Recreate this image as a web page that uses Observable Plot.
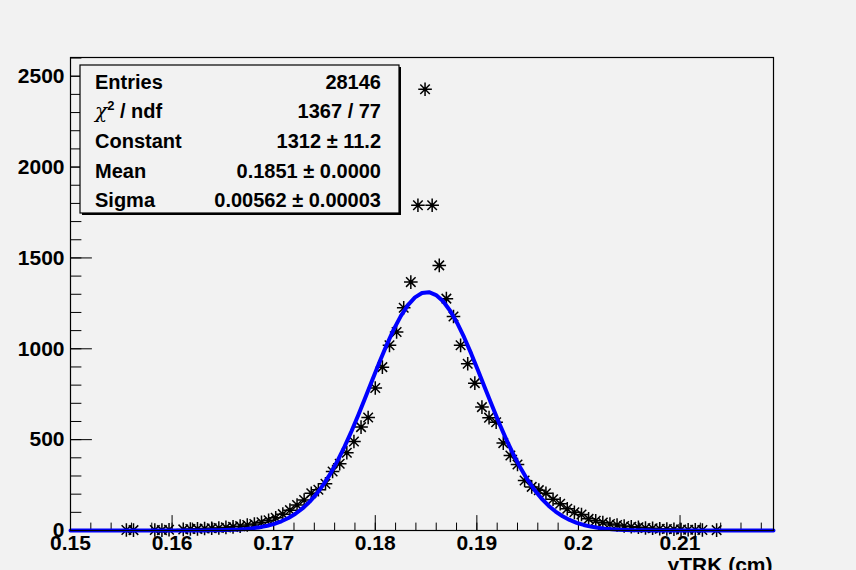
<!DOCTYPE html>
<html>
<head>
<meta charset="utf-8">
<script src="https://cdn.jsdelivr.net/npm/d3@7"></script>
<script src="https://cdn.jsdelivr.net/npm/@observablehq/plot@0.6"></script>
<style>
  html, body { margin: 0; padding: 0; background: #f2f2f2; }
  #chart { width: 856px; height: 570px; overflow: hidden; }
</style>
</head>
<body>
<div id="chart"></div>
<script>
// ---- data ----
const binCenters = [
  0.1555, 0.1562, 0.1583, 0.1590, 0.1597,
  0.1611, 0.1618, 0.1625, 0.1632, 0.1639, 0.1646, 0.1653, 0.1660, 0.1667, 0.1674,
  0.1681, 0.1688, 0.1695, 0.1702, 0.1709, 0.1716, 0.1723, 0.1730, 0.1737, 0.1744,
  0.1751, 0.1758, 0.1765, 0.1772, 0.1779, 0.1786, 0.1793, 0.1800, 0.1807, 0.1814,
  0.1821, 0.1828, 0.1835, 0.1842, 0.1849, 0.1856, 0.1863, 0.1870, 0.1877, 0.1884,
  0.1891, 0.1898, 0.1905, 0.1912, 0.1919, 0.1926, 0.1933, 0.1940, 0.1947, 0.1954,
  0.1961, 0.1968, 0.1975, 0.1982, 0.1989, 0.1996, 0.2003, 0.2010, 0.2017, 0.2024,
  0.2031, 0.2038, 0.2045, 0.2052, 0.2059, 0.2066, 0.2073, 0.2080, 0.2087, 0.2094,
  0.2101, 0.2108, 0.2115, 0.2122, 0.2136
];
const binCounts = [
  3, 2, 3, 2, 4,
  6, 8, 9, 11, 12, 14, 17, 20, 24, 30,
  36, 45, 56, 70, 90, 112, 140, 168, 205, 224,
  257, 325, 367, 428, 490, 569, 622, 784, 899, 1019,
  1092, 1226, 1367, 1790, 2428, 1790, 1459, 1276, 1178, 1019,
  918, 811, 679, 621, 596, 481, 413, 363, 275, 240,
  222, 205, 172, 147, 120, 100, 88, 64, 54, 44,
  36, 30, 25, 21, 18, 14, 12, 10, 8, 7,
  5, 4, 4, 3, 2
];

// fit parameters shown in the stats box
const fitConstant = 1312;
const fitMean = 0.1851;
const fitSigma = 0.00562;

const xDomain = [0.15, 0.2192];
const yDomain = [0, 2603];
const xMajorTicks = [0.15, 0.16, 0.17, 0.18, 0.19, 0.20, 0.21];
const xMinorTicks = d3.range(0.15, 0.2191, 0.002);
const yMajorTicks = [0, 500, 1000, 1500, 2000, 2500];
const yMinorTicks = d3.range(0, 2601, 100);

const xTitle = "yTRK (cm)";
const statsLabels = ["Entries", "chi2", "Constant", "Mean", "Sigma"];
const statsValues = ["28146", "1367 / 77", "1312 \u00b1 11.2", "0.1851 \u00b1 0.0000", "0.00562 \u00b1 0.00003"];

// ---- build tables ----
const points = binCenters.map((x, i) => ({x, y: binCounts[i]}));
const nFit = 100;
const fitX = d3.range(nFit + 1).map(i => xDomain[0] + (xDomain[1] - xDomain[0]) * i / nFit);
const fitCurve = fitX.map(x => ({x, y: fitConstant * Math.exp(-0.5 * ((x - fitMean) / fitSigma) ** 2)}));

// ROOT marker style 3 (asterisk with 8 arms)
const rootStar = {
  draw(context, size) {
    const r = Math.sqrt(size / Math.PI);
    const d = r * 0.7;
    context.moveTo(-r, 0); context.lineTo(r, 0);
    context.moveTo(0, -r); context.lineTo(0, r);
    context.moveTo(-d, -d); context.lineTo(d, d);
    context.moveTo(-d, d); context.lineTo(d, -d);
  }
};
// plain tick line for vector marks
const tickLine = {draw(context, l) { context.moveTo(0, 0); context.lineTo(0, -l); }};

const font = "'Liberation Sans', Arial, Helvetica, sans-serif";

const svg = Plot.plot({
  width: 856,
  height: 570,
  marginLeft: 70,
  marginRight: 83,
  marginTop: 57,
  marginBottom: 40,
  style: {background: "#f2f2f2", fontFamily: font, fontWeight: "bold", fontSize: "21px", color: "black", overflow: "hidden"},
  x: {domain: xDomain},
  y: {domain: yDomain},
  marks: [
    // ticks drawn inside the frame
    Plot.vector(xMinorTicks, {x: d => d, frameAnchor: "bottom", length: 7.5, rotate: 0, anchor: "start", shape: tickLine, stroke: "black", strokeWidth: 1}),
    Plot.vector(xMajorTicks, {x: d => d, frameAnchor: "bottom", length: 15, rotate: 0, anchor: "start", shape: tickLine, stroke: "black", strokeWidth: 1}),
    Plot.vector(yMinorTicks, {y: d => d, frameAnchor: "left", length: 10.5, rotate: 90, anchor: "start", shape: tickLine, stroke: "black", strokeWidth: 1}),
    Plot.vector(yMajorTicks, {y: d => d, frameAnchor: "left", length: 21, rotate: 90, anchor: "start", shape: tickLine, stroke: "black", strokeWidth: 1}),
    // tick labels
    Plot.axisX({ticks: xMajorTicks, tickSize: 0, tickPadding: 5, label: null, fontSize: 21, fill: "black",
      tickFormat: d => String(+d.toFixed(2))}),
    Plot.axisY({ticks: yMajorTicks, tickSize: 0, tickPadding: 6, label: null, fontSize: 21, fill: "black",
      tickFormat: d => String(d)}),
    // data markers
    Plot.dot(points, {x: "x", y: "y", symbol: rootStar, r: 6.8, stroke: "black", strokeWidth: 1.5, fill: "none"}),
    Plot.dot(points, {x: "x", y: "y", r: 1.7, fill: "black", stroke: "none"}),
    // gaussian fit
    Plot.line(fitCurve, {x: "x", y: "y", stroke: "#0000ff", strokeWidth: 4}),
    Plot.frame({stroke: "black", strokeWidth: 1.2}),
    // x-axis title
    Plot.text([xTitle], {frameAnchor: "bottom-right", text: d => d, textAnchor: "end", lineAnchor: "top", dy: 27, dx: -1, fontSize: 21, fill: "black"})
  ]
});

document.getElementById("chart").appendChild(svg);

// ---- statistics box (pave) ----
const sx0 = 80, sy0 = 65, sx1 = 399, sy1 = 213;
const g = d3.select(svg).append("g").attr("font-family", font).attr("font-weight", "bold").attr("font-size", 20);
g.append("rect").attr("x", sx0 + 2).attr("y", sy0 + 2).attr("width", sx1 - sx0).attr("height", sy1 - sy0).attr("fill", "black");
g.append("rect").attr("x", sx0).attr("y", sy0).attr("width", sx1 - sx0).attr("height", sy1 - sy0)
  .attr("fill", "#f2f2f2").attr("stroke", "black").attr("stroke-width", 1.2);
const rowH = (sy1 - sy0) / statsLabels.length;
statsLabels.forEach((lab, i) => {
  const cy = sy0 + rowH * (i + 0.5) + 2;
  const t = g.append("text").attr("x", sx0 + 15).attr("y", cy).attr("dy", "0.35em")
    .attr("text-anchor", "start").attr("fill", "black");
  if (lab === "chi2") {
    t.append("tspan").attr("font-weight", "normal").attr("font-family", "'DejaVu Serif', serif").attr("font-style", "italic").text("\u03c7");
    t.append("tspan").attr("font-size", 13).attr("dy", -8).text("2");
    t.append("tspan").attr("dy", 8).text(" / ndf");
  } else {
    t.text(lab);
  }
  g.append("text").attr("x", 381).attr("y", cy).attr("dy", "0.35em").attr("text-anchor", "end").attr("fill", "black").text(statsValues[i]);
});
</script>
</body>
</html>
